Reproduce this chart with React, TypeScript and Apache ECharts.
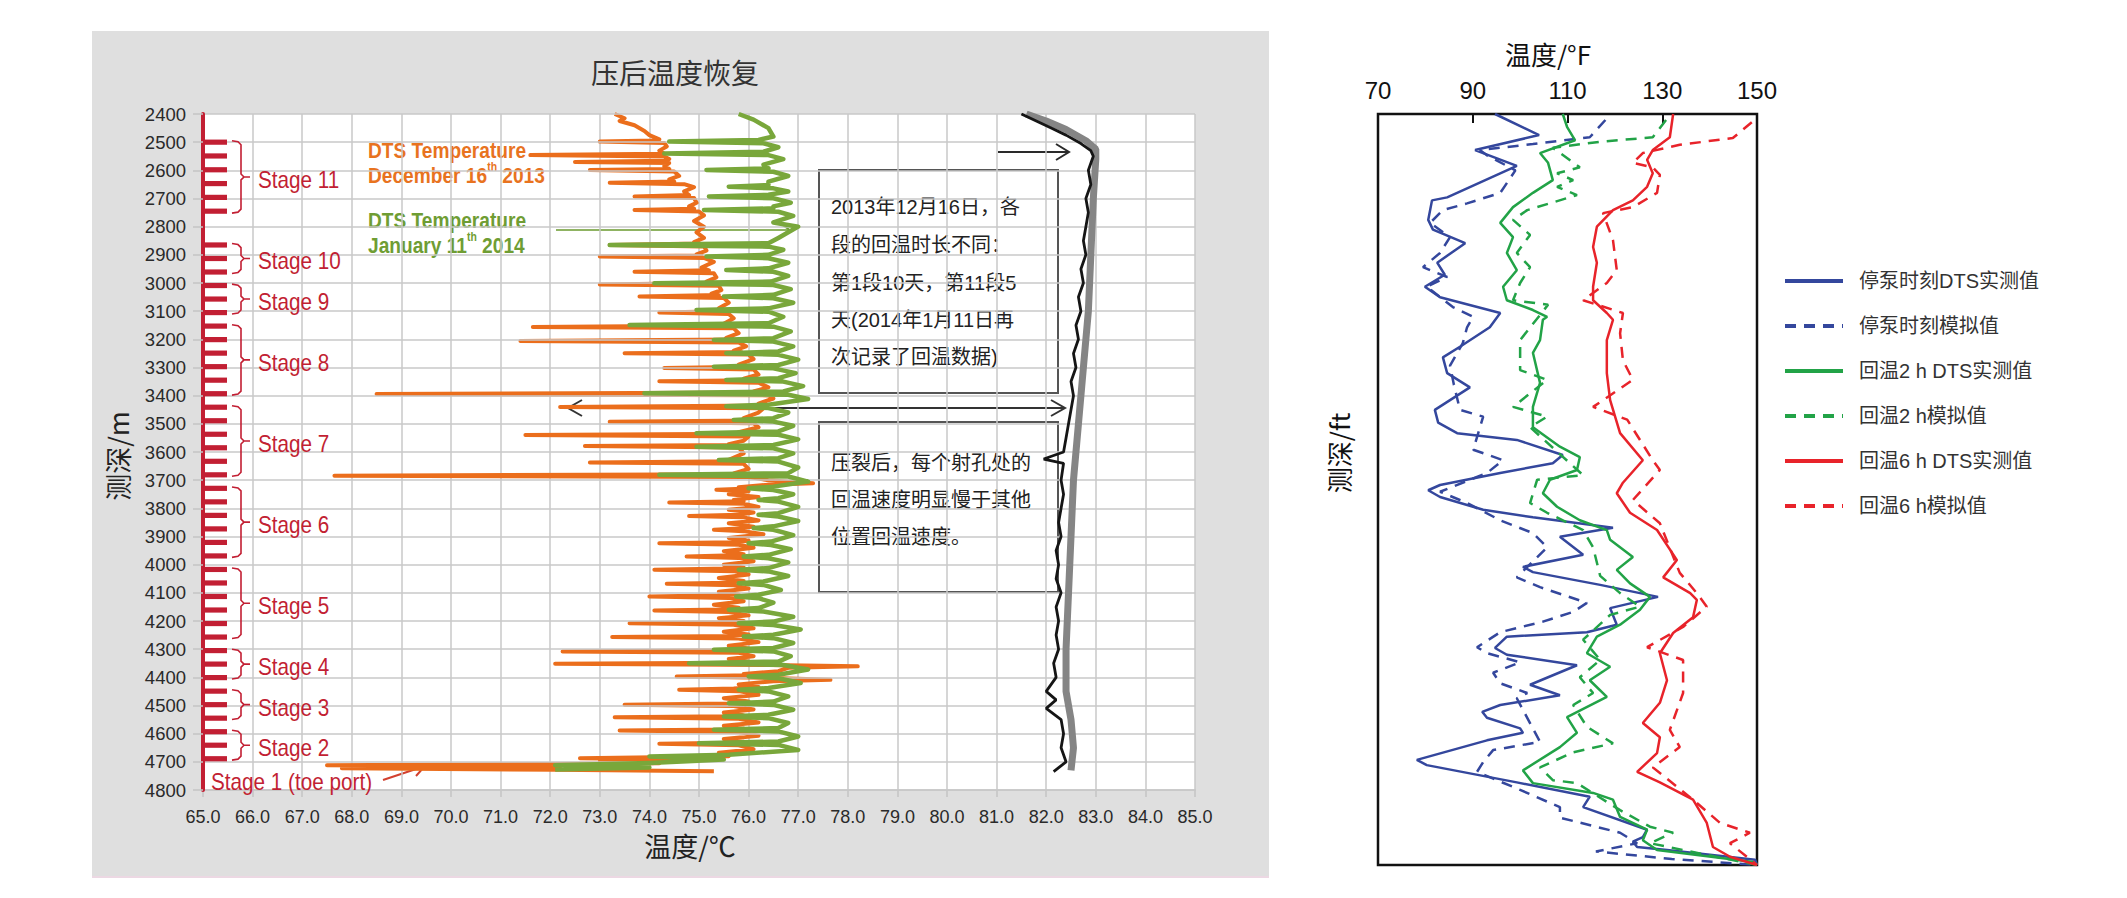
import React, { useEffect, useRef } from 'react';
import * as echarts from 'echarts';

const SANS = "'Liberation Sans', Arial, 'Noto Sans CJK SC', sans-serif";
const NARROW = "'Liberation Sans Narrow', 'Arial Narrow', 'Liberation Sans', sans-serif";
const CJK = "'Noto Sans CJK SC', 'Liberation Sans', sans-serif";
const STAGE_RED = '#c21f33';
const ORANGE = '#eb6e1c';
const OLIVE = '#79a73b';

// ---------- Left chart: depth (m) vs temperature (°C) ----------
const perfDepths = [2500, 2549, 2598, 2647, 2696, 2745, 2865, 2913, 2961, 3009, 3057, 3105, 3153, 3201, 3249, 3297, 3345, 3393, 3441, 3489, 3537, 3585, 3633, 3681, 3729, 3777, 3825, 3873, 3921, 3969, 4017, 4065, 4113, 4161, 4209, 4257, 4305, 4353, 4401, 4449, 4497, 4545, 4593, 4641, 4689];
const stageNames = ['Stage 11', 'Stage 10', 'Stage 9', 'Stage 8', 'Stage 7', 'Stage 6', 'Stage 5', 'Stage 4', 'Stage 3', 'Stage 2'];
const stageTops = [2495, 2860, 3004, 3148, 3436, 3724, 4012, 4300, 4444, 4588];
const stageBottoms = [2752, 2966, 3110, 3398, 3686, 3974, 4262, 4406, 4550, 4694];
const toeLabel = ['Stage 1 (toe port)'];
const toeDepth = [4771];

// [temperature °C, depth m]
const dec2013 = [
  [73.3, 2400], [73.5, 2415], [73.4, 2425], [73.7, 2440], [73.9, 2460], [74.0, 2475], [74.2, 2490],
  [74.1, 2494], [73.0, 2498], [74.3, 2503], [74.35, 2515], [74.2, 2530],
  [74.3, 2541], [71.6, 2546], [74.3, 2551], [74.4, 2560],
  [74.3, 2566], [72.5, 2570], [74.4, 2574], [74.3, 2585],
  [74.4, 2595], [72.8, 2599], [74.5, 2604], [74.6, 2620], [74.4, 2632],
  [74.5, 2640], [73.2, 2644], [74.7, 2649], [74.9, 2660], [74.7, 2675],
  [74.8, 2688], [73.7, 2693], [74.9, 2698], [74.95, 2715], [74.8, 2728],
  [74.9, 2736], [73.7, 2741], [75.0, 2746], [75.1, 2760], [74.9, 2780], [75.1, 2800], [74.95, 2820], [75.1, 2840], [74.9, 2855],
  [75.0, 2860], [73.2, 2865], [75.1, 2870], [75.15, 2885], [74.95, 2898],
  [75.05, 2902], [73.0, 2906], [75.1, 2911], [75.3, 2925], [75.05, 2945],
  [75.2, 2955], [73.7, 2960], [75.3, 2965], [75.35, 2980], [75.15, 2995],
  [75.3, 3000], [73.0, 3005], [75.4, 3010], [75.45, 3025], [75.25, 3038],
  [75.4, 3043], [73.8, 3048], [75.5, 3053], [75.6, 3070], [75.4, 3090],
  [75.5, 3100], [74.2, 3105], [75.6, 3110], [75.7, 3125], [75.5, 3145],
  [75.6, 3151], [71.65, 3156], [75.7, 3161], [75.8, 3178], [75.55, 3195],
  [75.7, 3201], [71.4, 3206], [75.8, 3211], [75.95, 3225], [75.7, 3240],
  [75.85, 3245], [73.5, 3249], [76.0, 3254], [76.1, 3270], [75.8, 3290],
  [76.0, 3297], [74.3, 3302], [76.1, 3307], [76.2, 3325], [75.9, 3340],
  [76.1, 3345], [74.2, 3349], [76.2, 3354], [76.4, 3370], [76.1, 3385],
  [76.3, 3389], [68.5, 3394], [76.4, 3399], [76.5, 3410], [76.2, 3428],
  [76.3, 3435], [72.2, 3440], [76.3, 3445], [76.2, 3460], [75.9, 3480],
  [76.1, 3488], [73.2, 3493], [76.1, 3498], [76.2, 3512], [75.8, 3530],
  [76.0, 3535], [71.5, 3540], [76.0, 3545], [75.9, 3560], [75.6, 3572],
  [75.8, 3575], [72.7, 3579], [75.8, 3584], [75.9, 3605], [75.6, 3628],
  [75.8, 3633], [72.8, 3637], [75.9, 3642], [76.0, 3660], [75.7, 3676],
  [75.9, 3679], [67.65, 3684], [76.0, 3689], [76.4, 3700], [77.3, 3711], [76.4, 3716], [75.8, 3725],
  [76.0, 3730], [75.35, 3734], [76.0, 3739], [75.6, 3750], [76.2, 3760], [75.7, 3770],
  [75.9, 3775], [74.4, 3779], [75.9, 3784], [76.2, 3795], [75.6, 3805], [76.1, 3815],
  [75.8, 3823], [74.8, 3827], [75.9, 3832], [76.2, 3843], [75.6, 3853], [76.1, 3865],
  [75.8, 3872], [75.3, 3876], [75.9, 3881], [76.3, 3892], [75.6, 3905], [76.0, 3915],
  [75.7, 3920], [74.2, 3924], [75.8, 3929], [76.1, 3940], [75.5, 3952], [75.9, 3963],
  [75.7, 3967], [74.75, 3971], [75.8, 3976], [76.1, 3988], [75.5, 4000], [75.9, 4010],
  [75.6, 4014], [74.1, 4018], [75.7, 4023], [76.0, 4035], [75.4, 4047], [75.9, 4058],
  [75.6, 4064], [74.35, 4068], [75.7, 4073], [76.0, 4085], [75.4, 4096], [75.8, 4106],
  [75.5, 4109], [74.0, 4113], [75.6, 4118], [75.9, 4130], [75.3, 4142], [75.8, 4153],
  [75.5, 4159], [74.1, 4163], [75.6, 4168], [76.0, 4180], [75.4, 4190], [75.9, 4200],
  [75.6, 4204], [73.6, 4208], [75.7, 4213], [76.1, 4226], [75.5, 4238], [76.0, 4248],
  [75.7, 4253], [73.25, 4257], [75.8, 4262], [76.2, 4275], [75.6, 4288], [76.0, 4298],
  [75.7, 4304], [72.25, 4308], [75.8, 4313], [76.1, 4325], [75.6, 4335], [76.0, 4344],
  [75.7, 4348], [72.1, 4352], [76.4, 4356], [78.2, 4361], [76.8, 4366], [76.6, 4378], [75.9, 4388],
  [76.0, 4393], [74.55, 4397], [76.5, 4402], [77.65, 4409], [76.5, 4414], [75.8, 4425], [76.2, 4434],
  [75.7, 4440], [74.6, 4444], [75.8, 4449], [76.2, 4462], [75.5, 4474], [76.0, 4486],
  [75.6, 4493], [73.5, 4497], [75.7, 4502], [76.1, 4514], [75.5, 4525], [75.9, 4535],
  [75.6, 4538], [73.3, 4542], [75.8, 4547], [76.2, 4560], [75.5, 4572], [75.9, 4582],
  [75.6, 4585], [73.4, 4589], [75.8, 4594], [76.2, 4607], [75.5, 4619], [75.9, 4629],
  [75.6, 4632], [74.2, 4636], [75.8, 4641], [76.1, 4655], [75.4, 4668], [75.6, 4680],
  [72.6, 4687], [74.6, 4692], [73.0, 4700], [74.2, 4705], [67.5, 4712], [72.2, 4717], [67.8, 4723], [72.1, 4728], [75.3, 4733],
];

const jan2014 = [
  [75.8, 2400], [76.1, 2420], [76.4, 2450], [76.5, 2480],
  [76.2, 2492], [74.4, 2498], [76.3, 2504], [76.6, 2518],
  [76.3, 2534], [74.3, 2540], [76.4, 2546], [76.7, 2560], [76.3, 2580],
  [76.4, 2593], [75.15, 2599], [76.5, 2605], [76.8, 2620], [76.4, 2640],
  [76.4, 2652], [75.6, 2658], [76.5, 2664], [76.8, 2675],
  [76.4, 2687], [75.2, 2693], [76.5, 2699], [76.85, 2715], [76.5, 2728],
  [76.5, 2735], [75.1, 2741], [76.6, 2747], [76.9, 2762], [76.5, 2785], [77.0, 2800], [76.8, 2820], [76.6, 2840],
  [76.4, 2859], [73.2, 2865], [76.4, 2871], [76.7, 2882],
  [76.4, 2900], [75.15, 2906], [76.4, 2912], [76.8, 2928],
  [76.4, 2948], [75.55, 2954], [76.5, 2960], [76.8, 2975],
  [76.45, 2995], [74.1, 3001], [76.5, 3007], [76.85, 3022],
  [76.5, 3042], [75.5, 3048], [76.5, 3054], [76.9, 3070],
  [76.4, 3090], [74.95, 3096], [76.4, 3102], [76.7, 3120],
  [76.4, 3143], [73.6, 3149], [76.5, 3155], [76.85, 3172],
  [76.5, 3196], [75.3, 3202], [76.5, 3208], [76.9, 3225],
  [76.6, 3243], [75.55, 3249], [76.6, 3255], [77.0, 3272],
  [76.6, 3291], [75.3, 3297], [76.5, 3303], [76.95, 3320],
  [76.6, 3338], [75.55, 3344], [76.7, 3350], [77.1, 3366],
  [76.7, 3385], [73.9, 3391], [76.8, 3397], [77.2, 3412],
  [76.4, 3432], [75.55, 3438], [76.4, 3444], [76.8, 3460],
  [76.5, 3480], [75.7, 3486], [76.5, 3492], [76.9, 3507],
  [76.6, 3527], [74.95, 3533], [76.6, 3539], [77.0, 3555],
  [76.5, 3575], [74.95, 3581], [76.5, 3587], [76.9, 3605],
  [76.6, 3622], [75.4, 3628], [76.6, 3634], [77.0, 3655],
  [76.8, 3675], [74.2, 3681], [76.8, 3687], [77.2, 3705],
  [76.5, 3723], [76.0, 3729], [76.5, 3735], [76.9, 3750],
  [76.6, 3764], [76.2, 3770], [76.6, 3776], [77.0, 3795],
  [76.6, 3817], [76.2, 3823], [76.6, 3829], [77.0, 3845],
  [76.5, 3864], [76.1, 3870], [76.5, 3876], [76.9, 3895],
  [76.45, 3918], [76.0, 3924], [76.45, 3930], [76.85, 3945],
  [76.4, 3965], [75.9, 3971], [76.4, 3977], [76.8, 3992],
  [76.4, 4012], [75.8, 4018], [76.4, 4024], [76.8, 4040],
  [76.3, 4060], [75.8, 4066], [76.3, 4072], [76.65, 4090],
  [76.2, 4107], [75.75, 4113], [76.2, 4119], [76.5, 4135],
  [76.2, 4154], [75.6, 4160], [76.3, 4166], [76.9, 4185],
  [76.5, 4202], [75.8, 4208], [76.5, 4214], [77.05, 4230],
  [76.5, 4249], [75.9, 4255], [76.5, 4261], [76.9, 4278],
  [76.5, 4296], [75.3, 4302], [76.5, 4308], [76.85, 4325],
  [76.6, 4344], [74.8, 4350], [76.7, 4356], [77.2, 4372],
  [76.6, 4391], [76.0, 4397], [76.6, 4403], [77.05, 4420],
  [76.4, 4438], [75.8, 4444], [76.4, 4450], [76.8, 4468],
  [76.5, 4486], [75.6, 4492], [76.5, 4498], [76.9, 4515],
  [76.4, 4533], [75.5, 4539], [76.4, 4545], [76.8, 4562],
  [76.6, 4580], [75.3, 4586], [76.6, 4592], [77.0, 4610],
  [76.6, 4628], [75.0, 4634], [76.6, 4640], [77.0, 4658],
  [75.6, 4675], [74.0, 4681], [75.5, 4692], [74.0, 4704], [72.1, 4712], [74.0, 4720], [72.1, 4727],
];

const refGray = [
  [81.6, 2400], [82.0, 2425], [82.4, 2455], [82.8, 2495], [83.0, 2525], [83.0, 2560], [82.95, 2700], [82.9, 2900], [82.85, 3100],
  [82.75, 3300], [82.65, 3500], [82.55, 3700], [82.5, 3900], [82.45, 4100], [82.4, 4300], [82.4, 4450], [82.5, 4550], [82.55, 4650], [82.5, 4730],
];

const refBlack = [
  [81.5, 2400], [81.8, 2425], [82.1, 2450], [82.4, 2475], [82.7, 2505], [82.9, 2530], [82.95, 2550], [82.85, 2600], [82.9, 2650],
  [82.8, 2700], [82.85, 2750], [82.8, 2800], [82.75, 2850], [82.8, 2900], [82.7, 2950], [82.75, 3000], [82.65, 3050], [82.7, 3100],
  [82.6, 3150], [82.65, 3200], [82.55, 3250], [82.6, 3300], [82.5, 3350], [82.55, 3400], [82.5, 3450], [82.45, 3500], [82.4, 3550],
  [82.35, 3600], [81.95, 3625], [82.35, 3640], [82.3, 3700], [82.35, 3750], [82.3, 3800], [82.25, 3850], [82.3, 3900], [82.2, 3950],
  [82.25, 4000], [82.2, 4050], [82.3, 4100], [82.2, 4150], [82.25, 4200], [82.2, 4250], [82.25, 4300], [82.15, 4350], [82.2, 4400],
  [82.0, 4450], [82.2, 4480], [82.0, 4510], [82.3, 4550], [82.35, 4600], [82.3, 4650], [82.4, 4700], [82.15, 4735],
];

// ---------- Right chart: °F vs relative depth (0 top .. 100 bottom) ----------
const rightXLabels = [70, 90, 110, 130, 150];
const rightXTicks = [90, 110, 130];
const rightNames = ['停泵时刻DTS实测值', '停泵时刻模拟值', '回温2 h DTS实测值', '回温2 h模拟值', '回温6 h DTS实测值', '回温6 h模拟值'];

const blueMeasured = [[94.7, 0], [104, 2.8], [90.5, 4.8], [99.3, 6.9], [84.6, 11.1], [81.4, 11.5], [80.6, 14.1], [81.6, 15.4], [88.4, 17.2], [82.5, 19.8], [84.1, 21.4], [79.9, 23], [83.1, 24.4], [95.8, 26.5], [93.6, 28.4], [87.3, 31], [83.7, 32.4], [84.6, 34.5], [89.4, 36.4], [85.2, 38.1], [82, 39.4], [82.7, 41.1], [86.7, 42.5], [99.3, 43.4], [109, 45.4], [106.9, 46.5], [95.8, 47.8], [83.1, 49.4], [80.6, 50.1], [83.1, 51], [92.2, 52.7], [102.7, 53.7], [119.6, 55.1], [108.4, 56.3], [113.3, 58.7], [100.6, 60.3], [102.7, 61], [116.9, 62.7], [129.1, 64.3], [119, 65.8], [120.4, 68], [114.1, 69], [97.2, 69.6], [94.7, 71.1], [97.2, 72], [112, 73.4], [102.1, 76], [108.4, 77.4], [95.8, 78.7], [92, 79.6], [93, 80.4], [100, 81.8], [100.6, 82.4], [93, 83.4], [78.2, 86], [80.3, 86.7], [99.3, 89], [114.7, 90.9], [113.3, 92.3], [126.8, 95.3], [125.9, 96.3], [123.8, 96.9], [124.7, 97.6], [131, 98], [149.6, 99.3], [150, 100]];
const blueModel = [[118, 0.8], [114.7, 3.1], [102.7, 4], [91.5, 4.8], [93, 5.5], [99, 7.5], [95.8, 10.5], [88.8, 11.9], [83.7, 12.8], [81, 14.5], [85.2, 16.4], [83.1, 18.5], [79.5, 20.4], [84.6, 21.7], [80.3, 23], [85.8, 25.7], [90.1, 27], [88.8, 28.4], [87.9, 30.5], [85.2, 33.5], [86, 36], [87.3, 39.4], [92.2, 40.3], [90.1, 44.7], [96.4, 46.1], [93, 47.8], [83.1, 50.3], [88.8, 51.8], [95.8, 54.1], [102.7, 55.8], [105.7, 57.7], [99.3, 61.7], [104.2, 63], [114.1, 65.1], [111.2, 66.3], [104.8, 67.6], [95.8, 69], [90.9, 71], [93, 71.8], [100, 73], [94.3, 74.4], [95.8, 75.8], [101.5, 77.1], [99.3, 77.8], [104.2, 83.6], [94.3, 84.7], [92.2, 86.3], [90.9, 87.6], [100, 90], [108.4, 92.3], [108.4, 93.7], [121.1, 95.7], [124.7, 97.1], [116, 98.2], [132, 99.2], [150, 100]];
const greenMeasured = [[109, 0], [109.9, 1.7], [111.6, 3.5], [104.2, 5.2], [105.9, 6.5], [106.9, 8.8], [102.7, 10.5], [98.5, 12.4], [95.8, 14.5], [98.5, 16.4], [97.2, 18.5], [99.3, 20.8], [96.4, 23], [97.2, 24.8], [102.7, 26.1], [105.7, 27], [104.8, 27.4], [104.2, 30.1], [102.7, 31.8], [104.2, 35.8], [102.7, 39], [102.7, 41.7], [108.4, 44.3], [112.6, 45.7], [112, 47.4], [106.3, 48.7], [104.8, 50.5], [107.8, 52.3], [112.6, 54.1], [118.3, 55.4], [119, 56.7], [123.8, 59], [120.4, 60.7], [123.2, 62.5], [127.4, 64.3], [125.3, 66], [121.1, 68], [116.2, 69.6], [114.1, 71.8], [119, 73.6], [114.7, 75.4], [118.3, 77.6], [109.9, 80.3], [112, 82.4], [108.4, 84.3], [100.6, 87.4], [102.7, 89.1], [115.4, 90.4], [119.6, 91.3], [121.1, 93.6], [126.8, 95.3], [125.9, 96.7], [128.9, 98], [149.2, 99.6], [150, 100]];
const greenModel = [[130.8, 0.8], [128, 3.1], [116.9, 3.7], [106.9, 4.5], [112.6, 7.1], [107.8, 7.9], [111.2, 8.8], [107.8, 9.7], [112, 10.8], [101.5, 12.8], [98.5, 14.1], [102.1, 16.1], [99.3, 18.5], [102.1, 20.4], [100, 22.5], [98.5, 24.8], [105.9, 25.4], [100, 30.1], [100, 34.1], [105.7, 35.4], [98.5, 39], [105.7, 40.3], [102.1, 41.7], [110.5, 46.5], [113.3, 48.1], [103.6, 48.7], [102.1, 51.8], [105.7, 53.1], [113.3, 55.4], [115.4, 57.7], [116.9, 61.5], [121.1, 63.8], [125.3, 65.6], [119, 66.7], [113.3, 70], [116.9, 72.7], [112.6, 75], [115.4, 77.1], [111.2, 78.7], [114.1, 81.6], [119.6, 83.8], [111.2, 85], [104.2, 87], [106.9, 88.7], [112, 89.1], [121.1, 92.7], [127.4, 94.9], [132.3, 95.7], [127.4, 97.1], [150, 100]];
const redMeasured = [[132.3, 0], [131.6, 3.1], [128, 4.8], [126.8, 6.1], [128, 7.9], [126.8, 9.7], [123.8, 11.5], [119.6, 12.8], [116.2, 15], [115.4, 17.7], [116.2, 19.8], [115.4, 23], [115.4, 24.8], [118.3, 26.5], [119.6, 27.4], [118.3, 30.1], [118.3, 34.5], [119, 38.1], [121.1, 42.5], [125.9, 46.1], [121.7, 49.1], [120.4, 50.5], [123.2, 53.1], [128.9, 55.4], [133.1, 59.4], [130.2, 61.7], [135.9, 63.8], [137.3, 64.7], [136.5, 67], [132.3, 69.1], [129.5, 71.8], [131, 75.4], [129.5, 78.4], [125.9, 81.1], [129.5, 83], [128.9, 85.1], [124.7, 87.6], [129.5, 89], [136.5, 91.3], [139.4, 94.4], [140.7, 97.6], [144.3, 98.9], [150, 100]];
const redModel = [[148.9, 1.1], [144.9, 3.2], [133.7, 4.1], [125.9, 5.2], [123.8, 6.5], [128, 7.1], [129.5, 8.1], [128.9, 10.5], [123.8, 12.4], [117.5, 13.2], [119.6, 16.8], [120.4, 20.8], [118.3, 22.5], [113.3, 24.8], [121.7, 26.5], [121.1, 29.2], [121.7, 32.8], [123.8, 35.4], [115.4, 39], [122.6, 40.7], [128, 46.1], [129.5, 47.4], [123.8, 51.4], [129.5, 54.5], [133.7, 61.1], [137.3, 63.8], [139.4, 65.6], [134.4, 68.3], [126.8, 71], [134.4, 72.7], [134.4, 77.1], [131.6, 82], [133.7, 84.3], [128, 87], [136.5, 91.3], [142.2, 94.4], [148.5, 95.7], [144.3, 97.1], [150, 100]];

const BLUE = '#34479d';
const GREEN = '#22a347';
const RED = '#e8232a';
const DASH = [11, 8];

function arrowHead(x: number, y: number, dir: number, len: number, half: number, color: string, w: number) {
  return {
    type: 'polyline',
    shape: { points: [[x - dir * len, y - half], [x, y], [x - dir * len, y + half]] },
    style: { stroke: color, lineWidth: w, fill: null },
  };
}

function buildOption() {
  const boxText = (text: string, y: number) => ({
    type: 'text', x: 831, y,
    style: { text, fill: '#222', fontSize: 20, fontFamily: SANS, verticalAlign: 'middle', align: 'left' },
  });
  const richDts = (lines: string[], color: string, y: number) => ({
    type: 'text', x: 368, y, scaleX: 0.87,
    style: {
      text: lines.join('\n'),
      verticalAlign: 'middle',
      align: 'left',
      rich: {
        a: { fontSize: 22, fontWeight: 'bold', fill: color, fontFamily: NARROW, lineHeight: 25, verticalAlign: 'bottom' },
        s: { fontSize: 12, fontWeight: 'bold', fill: color, fontFamily: NARROW, lineHeight: 25, verticalAlign: 'top' },
      },
    },
  });

  const rightLine = (name: string, data: number[][], color: string, dashed: boolean) => ({
    name, type: 'line', xAxisIndex: 1, yAxisIndex: 1, data, showSymbol: false, symbol: 'none', silent: true,
    lineStyle: { color, width: 2.5, type: dashed ? DASH : 'solid' },
    itemStyle: { color },
  });

  return {
    animation: false,
    textStyle: { fontFamily: SANS },
    grid: [
      { left: 203, top: 114, width: 992, height: 676, show: true, backgroundColor: '#ffffff', borderWidth: 0 },
      { left: 1378, top: 114, width: 379, height: 751, show: true, backgroundColor: '#ffffff', borderColor: '#111', borderWidth: 2.5 },
    ],
    xAxis: [
      {
        type: 'value', gridIndex: 0, min: 65, max: 85, interval: 1, position: 'bottom',
        axisLine: { show: true, onZero: false, lineStyle: { color: '#c4c4c4', width: 1.5 } },
        axisTick: { show: true, length: 7, lineStyle: { color: '#c4c4c4', width: 1.5 } },
        axisLabel: { margin: 18, fontSize: 18, color: '#2a2a2a', fontFamily: SANS, formatter: (v: number) => v.toFixed(1) },
        splitLine: { show: true, lineStyle: { color: '#c8c8c8', width: 1.5 } },
      },
      {
        type: 'value', gridIndex: 1, min: 70, max: 150, position: 'top',
        axisLine: { show: false },
        axisTick: { show: true, inside: true, length: 9, customValues: rightXTicks, lineStyle: { color: '#111', width: 2 } },
        axisLabel: { margin: 12, fontSize: 24, color: '#111', fontFamily: SANS, customValues: rightXLabels },
        splitLine: { show: false },
      },
    ],
    yAxis: [
      {
        type: 'value', gridIndex: 0, min: 2400, max: 4800, interval: 100, inverse: true,
        axisLine: { show: true, onZero: false, lineStyle: { color: STAGE_RED, width: 4 } },
        axisTick: { show: true, length: 10, lineStyle: { color: '#c4c4c4', width: 1.5 } },
        axisLabel: { margin: 17, fontSize: 18.5, color: '#2a2a2a', fontFamily: SANS, formatter: (v: number) => String(v) },
        splitLine: { show: true, lineStyle: { color: '#c8c8c8', width: 1.5 } },
        z: 3,
      },
      {
        type: 'value', gridIndex: 1, min: 0, max: 100, inverse: true,
        axisLine: { show: false }, axisTick: { show: false }, axisLabel: { show: false }, splitLine: { show: false },
      },
    ],
    legend: {
      data: rightNames,
      orient: 'vertical',
      left: 1783,
      top: 269,
      itemWidth: 58,
      itemHeight: 14,
      itemGap: 21,
      padding: 0,
      selectedMode: false,
      itemStyle: { opacity: 0, borderWidth: 0 },
      lineStyle: { width: 4 },
      textStyle: { fontSize: 20, color: '#333', fontFamily: SANS, lineHeight: 24, padding: [0, 0, 0, 11] },
    },
    graphic: {
      z: 100,
      elements: [
        { type: 'text', x: 675, y: 72, style: { text: '压后温度恢复', fill: '#333', fontSize: 28, fontFamily: CJK, align: 'center', verticalAlign: 'middle' } },
        { type: 'text', x: 690, y: 845, style: { text: '温度/℃', fill: '#222', fontSize: 27, fontFamily: CJK, align: 'center', verticalAlign: 'middle' } },
        { type: 'text', x: 117, y: 456, rotation: Math.PI / 2, style: { text: '测深/m', fill: '#222', fontSize: 27, fontFamily: CJK, align: 'center', verticalAlign: 'middle' } },
        richDts(['{a|DTS Temperature}', '{a|December 16}{s|th}{a| 2013}'], '#e8731f', 161),
        richDts(['{a|DTS Temperature}', '{a|January 11}{s|th}{a| 2014}'], '#6f9d33', 231),
        { type: 'line', shape: { x1: 556, y1: 230, x2: 790, y2: 230 }, style: { stroke: '#6a9a2e', lineWidth: 1.6 } },
        arrowHead(790, 230, 1, 11, 7, '#6a9a2e', 1.6),
        { type: 'rect', shape: { x: 872, y: 133, width: 122, height: 35 }, style: { fill: '#ffffff' } },
        { type: 'line', shape: { x1: 998, y1: 152, x2: 1069, y2: 152 }, style: { stroke: '#2a2a2a', lineWidth: 2 } },
        arrowHead(1069, 152, 1, 13, 8, '#2a2a2a', 2),
        { type: 'rect', shape: { x: 819, y: 170, width: 239, height: 223 }, style: { fill: '#ffffff', stroke: '#555', lineWidth: 2 } },
        boxText('2013年12月16日，各', 207),
        boxText('段的回温时长不同：', 245),
        boxText('第1段10天，第11段5', 283),
        boxText('天(2014年1月11日再', 320),
        boxText('次记录了回温数据)', 357),
        { type: 'line', shape: { x1: 568, y1: 408, x2: 1065, y2: 408 }, style: { stroke: '#333', lineWidth: 2 } },
        arrowHead(568, 408, -1, 14, 8, '#333', 2),
        arrowHead(1065, 408, 1, 14, 8, '#333', 2),
        { type: 'rect', shape: { x: 819, y: 422, width: 239, height: 170 }, style: { fill: '#ffffff', stroke: '#555', lineWidth: 2 } },
        boxText('压裂后，每个射孔处的', 463),
        boxText('回温速度明显慢于其他', 500),
        boxText('位置回温速度。', 537),
        { type: 'line', shape: { x1: 383, y1: 780, x2: 425, y2: 766 }, style: { stroke: '#d2402f', lineWidth: 2 } },
        { type: 'polyline', shape: { points: [[412, 764], [425, 766], [416, 776]] }, style: { stroke: '#d2402f', lineWidth: 2, fill: null } },
        { type: 'text', x: 1548, y: 53, style: { text: '温度/°F', fill: '#111', fontSize: 26, fontFamily: CJK, align: 'center', verticalAlign: 'middle' } },
        { type: 'text', x: 1338, y: 453, rotation: Math.PI / 2, style: { text: '测深/ft', fill: '#111', fontSize: 26, fontFamily: CJK, align: 'center', verticalAlign: 'middle' } },
      ],
    },
    series: [
      { name: 'DTS Temperature December 16th 2013', type: 'line', xAxisIndex: 0, yAxisIndex: 0, data: dec2013, showSymbol: false, symbol: 'none', silent: true, lineStyle: { color: ORANGE, width: 4, join: 'round' }, z: 2 },
      { name: 'DTS Temperature January 11th 2014', type: 'line', xAxisIndex: 0, yAxisIndex: 0, data: jan2014, showSymbol: false, symbol: 'none', silent: true, lineStyle: { color: OLIVE, width: 4.5, join: 'round' }, z: 3 },
      { name: 'ref gray', type: 'line', xAxisIndex: 0, yAxisIndex: 0, data: refGray, showSymbol: false, symbol: 'none', silent: true, lineStyle: { color: '#858585', width: 7 }, z: 3 },
      { name: 'ref black', type: 'line', xAxisIndex: 0, yAxisIndex: 0, data: refBlack, showSymbol: false, symbol: 'none', silent: true, lineStyle: { color: '#151515', width: 2.8 }, z: 4 },
      {
        name: 'perforations', type: 'custom', xAxisIndex: 0, yAxisIndex: 0, silent: true, z: 5,
        data: perfDepths.map((d) => [d]), encode: { y: 0 },
        renderItem: (_p: any, api: any) => {
          const c = api.coord([65, api.value(0)]);
          return { type: 'rect', shape: { x: c[0], y: c[1] - 2.6, width: 24, height: 5.2 }, style: { fill: STAGE_RED } };
        },
      },
      {
        name: 'stages', type: 'custom', xAxisIndex: 0, yAxisIndex: 0, silent: true, z: 5,
        data: stageTops.map((t, i) => [t, stageBottoms[i]]), encode: { y: [0, 1] },
        renderItem: (p: any, api: any) => {
          const t = api.coord([65, api.value(0)]);
          const b = api.coord([65, api.value(1)]);
          const x0 = t[0];
          const xv = x0 + 38, xh = x0 + 29, xn = x0 + 47;
          const y1 = t[1], y2 = b[1], ym = (y1 + y2) / 2;
          return {
            type: 'group',
            children: [
              {
                type: 'polyline',
                shape: { points: [[xh, y1], [xv - 3, y1 + 1], [xv, y1 + 4], [xv, ym - 3], [xv + 3, ym], [xn, ym], [xv + 3, ym], [xv, ym + 3], [xv, y2 - 4], [xv - 3, y2 - 1], [xh, y2]] },
                style: { stroke: STAGE_RED, lineWidth: 1.6, fill: null },
              },
              { type: 'text', x: x0 + 55, y: ym + 3, scaleX: 0.9, style: { x: 0, y: 0, text: stageNames[p.dataIndex], fill: STAGE_RED, fontSize: 23, fontFamily: NARROW, verticalAlign: 'middle', align: 'left' } },
            ],
          };
        },
      },
      {
        name: 'toe', type: 'custom', xAxisIndex: 0, yAxisIndex: 0, silent: true, z: 5,
        data: toeDepth.map((d) => [d]), encode: { y: 0 },
        renderItem: (p: any, api: any) => {
          const c = api.coord([65, api.value(0)]);
          return { type: 'text', x: c[0] + 8, y: c[1], scaleX: 0.9, style: { x: 0, y: 0, text: toeLabel[p.dataIndex], fill: STAGE_RED, fontSize: 23, fontFamily: NARROW, verticalAlign: 'middle', align: 'left' } };
        },
      },
      rightLine(rightNames[0], blueMeasured, BLUE, false),
      rightLine(rightNames[1], blueModel, BLUE, true),
      rightLine(rightNames[2], greenMeasured, GREEN, false),
      rightLine(rightNames[3], greenModel, GREEN, true),
      rightLine(rightNames[4], redMeasured, RED, false),
      rightLine(rightNames[5], redModel, RED, true),
    ],
  };
}

export default function App() {
  const ref = useRef<HTMLDivElement>(null);
  useEffect(() => {
    document.body.style.margin = '0';
    const chart = echarts.init(ref.current as HTMLDivElement, null, { renderer: 'svg' });
    chart.setOption(buildOption() as any);
    return () => chart.dispose();
  }, []);
  return (
    <div style={{ position: 'relative', width: 2127, height: 898, background: '#ffffff', overflow: 'hidden' }}>
      <div style={{ position: 'absolute', left: 92, top: 31, width: 1177, height: 845, background: '#dfdfdf', borderBottom: '2px solid #ecd8e3' }} />
      <div ref={ref} style={{ position: 'absolute', left: 0, top: 0, width: 2127, height: 898 }} />
    </div>
  );
}
